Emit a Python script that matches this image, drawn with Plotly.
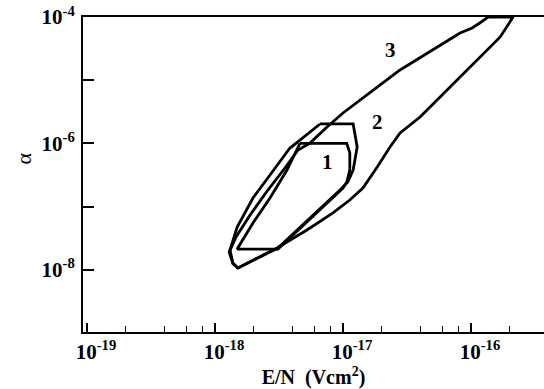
import numpy as np
import plotly.graph_objects as go

# Curve 1 (E/N in V cm^2, alpha)
c1_x = [4.61e-18, 1.07e-17, 1.13e-17, 1.13e-17, 1.07e-17, 1.0e-17, 3.10e-18, 1.49e-18,
        1.98e-18, 2.69e-18, 3.65e-18, 4.61e-18]
c1_y = [1.0e-6, 1.0e-6, 7.05e-7, 3.79e-7, 2.45e-7, 1.97e-7, 2.13e-8, 2.13e-8,
        5.5e-8, 1.37e-7, 3.79e-7, 1.0e-6]

# Curve 2
c2_x = [6.61e-18, 1.20e-17, 1.29e-17, 1.20e-17, 1.09e-17, 9.48e-18, 3.10e-18, 1.51e-18,
        1.38e-18, 1.31e-18, 1.49e-18, 1.98e-18, 2.69e-18, 3.85e-18, 4.61e-18, 6.61e-18]
c2_y = [2.03e-6, 2.03e-6, 8.77e-7, 3.79e-7, 2.45e-7, 1.83e-7, 2.21e-8, 1.07e-8,
        1.28e-8, 2.06e-8, 4.75e-8, 1.37e-7, 3.16e-7, 8.45e-7, 1.13e-6, 2.03e-6]

# Curve 3
c3_x = [1.51e-18, 3.05e-18, 5.23e-18, 8.35e-18, 1.13e-17, 1.43e-17, 1.85e-17, 2.33e-17,
        2.79e-17, 4.00e-17, 5.73e-17, 8.21e-17, 1.33e-16, 1.69e-16, 2.13e-16, 1.36e-16,
        1.17e-16, 1.02e-16, 8.21e-17, 6.49e-17, 4.53e-17, 2.79e-17, 1.85e-17, 1.36e-17,
        1.0e-17, 7.50e-18, 5.52e-18, 4.45e-18, 3.52e-18, 2.59e-18, 1.88e-18, 1.46e-18,
        1.29e-18, 1.38e-18, 1.51e-18]
c3_y = [1.07e-8, 2.21e-8, 4.27e-8, 7.93e-8, 1.27e-7, 1.97e-7, 4.24e-7, 8.77e-7,
        1.46e-6, 2.62e-6, 5.42e-6, 1.12e-5, 3.01e-5, 4.83e-5, 1.0e-4, 1.0e-4,
        8.04e-5, 6.70e-5, 5.58e-5, 4.17e-5, 2.69e-5, 1.45e-5, 7.80e-6, 4.86e-6,
        3.03e-6, 1.82e-6, 1.01e-6, 7.87e-7, 4.08e-7, 1.83e-7, 7.36e-8, 3.30e-8,
        1.91e-8, 1.25e-8, 1.07e-8]

curve_labels = ["1", "2", "3"]
label_x = [7.63e-18, 1.85e-17, 2.37e-17]
label_y = [5.08e-7, 2.18e-6, 3.0e-5]

x_tickvals = [1e-19, 1e-18, 1e-17, 1e-16]
x_ticktext = ["<b>10<sup>-19</sup></b>", "<b>10<sup>-18</sup></b>",
              "<b>10<sup>-17</sup></b>", "<b>10<sup>-16</sup></b>"]
y_tickvals = [1e-4, 1e-6, 1e-8]
y_ticktext = ["<b>10<sup>-4</sup></b>", "<b>10<sup>-6</sup></b>", "<b>10<sup>-8</sup></b>"]
y_minor = [1e-5, 1e-7]
x_minor = [k * 10.0 ** n for n in range(-19, -15) for k in (2, 4, 6, 8)]

FONT = "Liberation Serif"

fig = go.Figure()
for xs, ys in [(c1_x, c1_y), (c2_x, c2_y), (c3_x, c3_y)]:
    fig.add_trace(go.Scatter(x=xs, y=ys, mode="lines",
                             line=dict(color="black", width=2.8),
                             cliponaxis=False, showlegend=False, hoverinfo="skip"))

for t, lx, ly in zip(curve_labels, label_x, label_y):
    fig.add_annotation(x=np.log10(lx), y=np.log10(ly), text="<b>%s</b>" % t,
                       showarrow=False, font=dict(family=FONT, size=21, color="black"))

fig.add_annotation(xref="paper", yref="paper", x=-0.16, y=0.55, text="α",
                   textangle=-90, showarrow=False,
                   font=dict(family=FONT, size=22, color="black"))

fig.update_xaxes(type="log", range=[-19.031, -15.43],
                 showline=True, linecolor="black", linewidth=2, mirror=True,
                 ticks="inside", ticklen=9, tickwidth=1.6, tickcolor="black",
                 tickmode="array", tickvals=x_tickvals, ticktext=x_ticktext,
                 tickfont=dict(family=FONT, size=21, color="black"),
                 ticklabelshift=9,
                 minor=dict(ticks="inside", ticklen=6, tickwidth=1.4, tickcolor="black",
                            tickvals=x_minor, showgrid=False),
                 showgrid=False, zeroline=False,
                 title=dict(text="<b>E/N  (Vcm<sup>2</sup>)</b>", standoff=6,
                            font=dict(family=FONT, size=20, color="black")))

fig.update_yaxes(type="log", range=[-8.984, -4.0],
                 showline=True, linecolor="black", linewidth=2, mirror=False,
                 ticks="inside", ticklen=11, tickwidth=1.6, tickcolor="black",
                 tickmode="array", tickvals=y_tickvals, ticktext=y_ticktext,
                 tickfont=dict(family=FONT, size=21, color="black"),
                 ticklabelstandoff=2,
                 minor=dict(ticks="inside", ticklen=11, tickwidth=1.6, tickcolor="black",
                            tickvals=y_minor, showgrid=False),
                 showgrid=False, zeroline=False)

fig.update_layout(width=544, height=389,
                  margin=dict(l=83, r=0, t=17, b=57),
                  plot_bgcolor="white", paper_bgcolor="white")

fig.write_html("out.html")
